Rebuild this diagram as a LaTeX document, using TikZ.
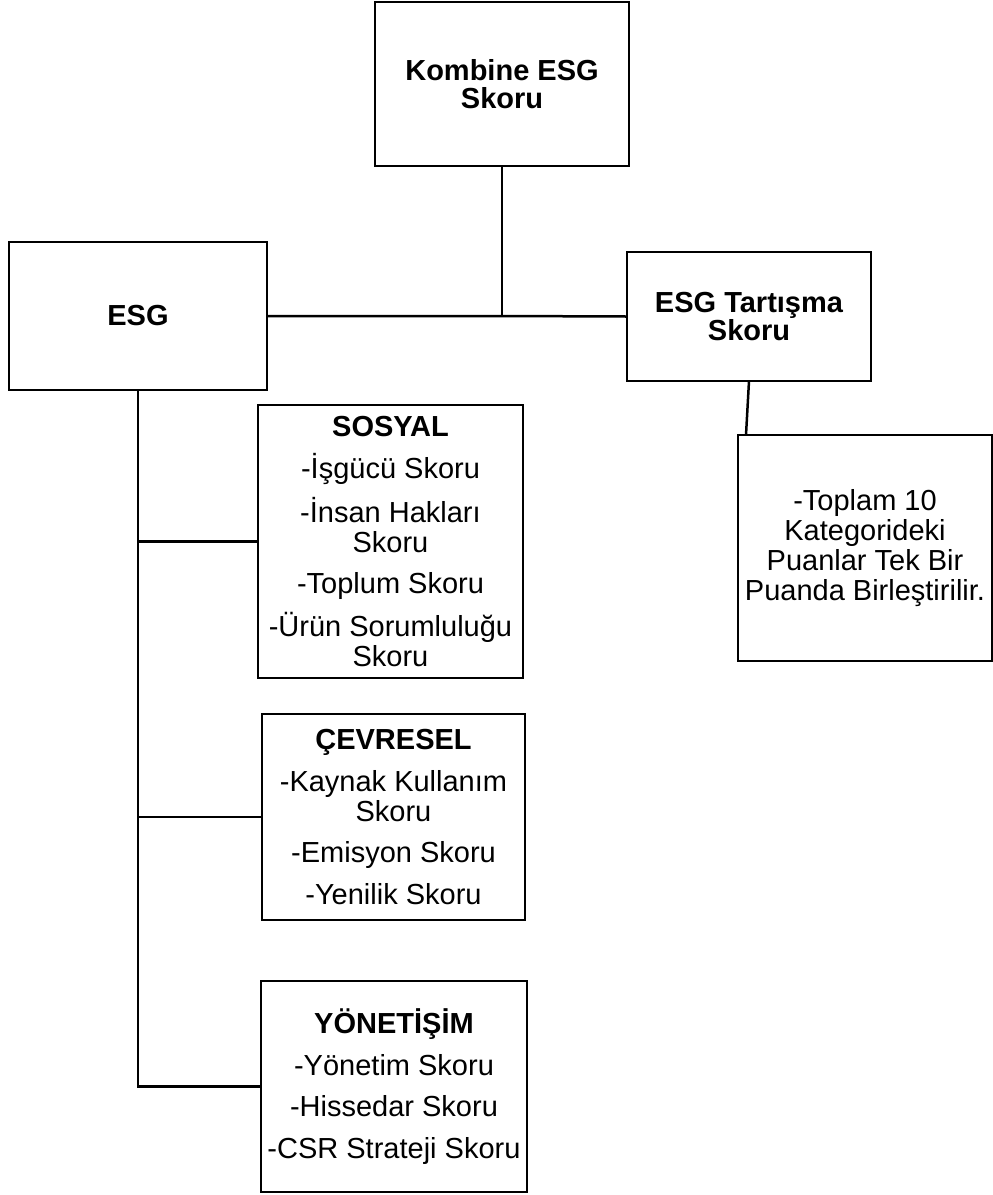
\documentclass[tikz,border=0pt]{standalone}
\usepackage{fontspec}
\setmainfont{Liberation Sans}
\usetikzlibrary{calc}
\begin{document}
\begin{tikzpicture}[x=1pt,y=-1pt,
  box/.style={draw=black,line width=2.5pt,inner sep=0pt,outer sep=0pt,align=center,
    font=\fontsize{29}{30}\selectfont},
  conn/.style={draw=black,line width=2.5pt}]
\useasboundingbox (0,0) rectangle (993,1195);
\node[box,minimum width=254pt,minimum height=164pt,font=\fontsize{29}{28}\selectfont\bfseries] (top) at (502,84) {Kombine ESG\\Skoru};
\node[box,minimum width=258pt,minimum height=148pt,font=\fontsize{29}{30}\selectfont\bfseries] (esg) at (138,316) {ESG};
\node[box,minimum width=244pt,minimum height=129pt,font=\fontsize{29}{28}\selectfont\bfseries] (tart) at (749,316.5) {ESG Tartışma\\Skoru};
\node[box,minimum width=254pt,minimum height=226pt] (note) at (865,548) {-Toplam 10\\Kategorideki\\Puanlar Tek Bir\\Puanda Birleştirilir.};
\node[box,minimum width=265pt,minimum height=273pt] (sos) at (390.5,541.5) {\textbf{SOSYAL}\\[11.5pt]-İşgücü Skoru\\[11.5pt]-İnsan Hakları\\Skoru\\[11.5pt]-Toplum Skoru\\[11.5pt]-Ürün Sorumluluğu\\Skoru};
\node[box,minimum width=263pt,minimum height=206pt] (cev) at (393.5,817) {\textbf{ÇEVRESEL}\\[11.5pt]-Kaynak Kullanım\\Skoru\\[11.5pt]-Emisyon Skoru\\[11.5pt]-Yenilik Skoru};
\node[box,minimum width=266pt,minimum height=211pt] (yon) at (394,1086.5) {\textbf{YÖNETİŞİM}\\[11.5pt]-Yönetim Skoru\\[11.5pt]-Hissedar Skoru\\[11.5pt]-CSR Strateji Skoru};
\coordinate (j) at (top.south |- esg.east);
\draw[conn] (top.south) -- (j);
\draw[conn] (esg.east) -- (j) -- (tart.west);
\draw[conn] (tart.south) -- ($(note.north west)+(8,0)$);
\draw[conn] (esg.south) -- (esg.south |- yon.west) -- (yon.west);
\draw[conn] (esg.south |- sos.west) -- (sos.west);
\draw[conn] (esg.south |- cev.west) -- (cev.west);
\end{tikzpicture}
\end{document}
